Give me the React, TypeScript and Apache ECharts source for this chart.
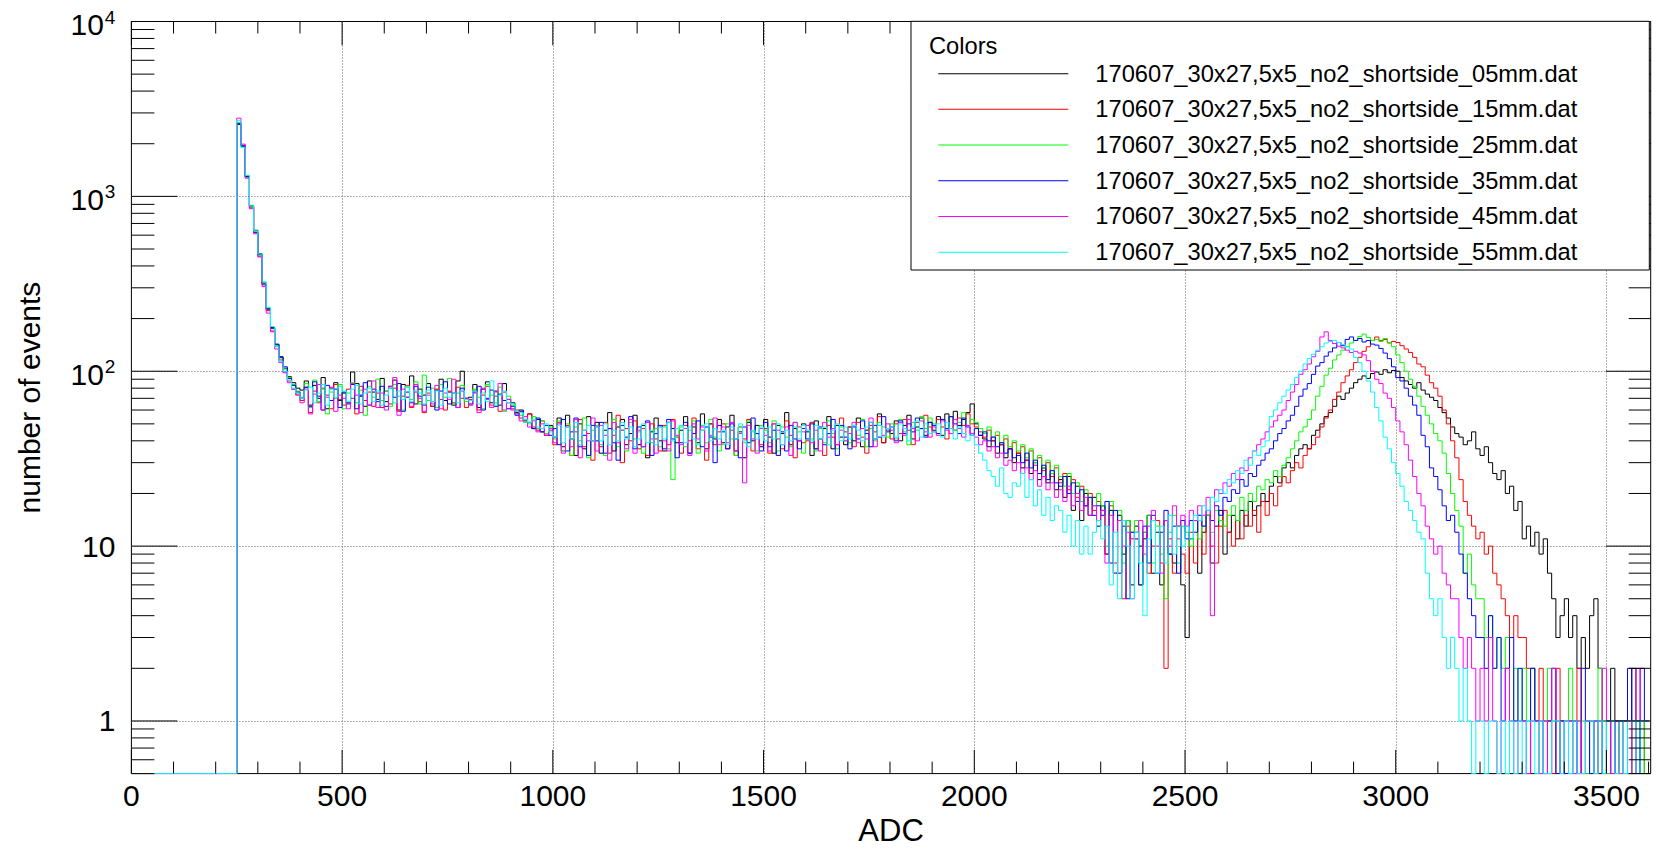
import React, { useEffect, useRef } from "react";
import * as echarts from "echarts";

// ---- histogram binning (ADC) ----
const BIN_WIDTH = 10; // bins start at 0: bin i covers [i*10, i*10+10)
const X_MIN = 0;
const X_MAX = 3605;
const X_MAJOR = 500;
const X_MINOR = 100;
const Y_MIN = 0.5;
const Y_MAX = 10000;

const seriesNames = [
  "170607_30x27,5x5_no2_shortside_05mm.dat",
  "170607_30x27,5x5_no2_shortside_15mm.dat",
  "170607_30x27,5x5_no2_shortside_25mm.dat",
  "170607_30x27,5x5_no2_shortside_35mm.dat",
  "170607_30x27,5x5_no2_shortside_45mm.dat",
  "170607_30x27,5x5_no2_shortside_55mm.dat",
];
const seriesColors = ["#000000", "#ff0000", "#00ff00", "#0000ff", "#ff00ff", "#00ffff"];

// number of events per bin, one row = 100 ADC
const counts05 = [
  0,0,0,0,0,0,0,0,0,0,
  0,0,0,0,0,0,0,0,0,0,
  0,0,0,0,0,2580,1930,1290,880,640,
  470,320,228,178,142,121,104,93,86,80,
  78,88,64,83,70,92,61,80,86,68,
  75,66,99,85,72,63,88,76,69,91,
  67,82,89,60,84,71,94,65,79,73,
  85,63,78,90,68,76,64,88,100,70,
  71,84,62,79,87,66,77,64,85,69,
  66,58,60,52,57,47,53,45,43,49,
  42,54,37,56,41,33,50,36,55,40,
  51,34,46,58,35,48,53,38,44,56,
  38,49,32,45,54,40,35,51,47,39,
  46,55,34,48,39,57,36,50,41,53,
  39,48,56,35,45,32,51,40,49,37,
  53,42,34,49,44,58,38,47,40,50,
  45,33,52,41,47,55,36,49,42,38,
  48,40,54,37,46,51,41,57,39,47,
  44,52,40,49,56,41,48,54,43,51,
  46,55,43,57,47,59,49,53,58,65,
  50,43,41,37,40,34,38,32,36,30,
  34,28,31,26,30,24,28,23,26,21,
  24,19,25,16,22,14,20,15,19,13,
  17,9,16,7,15,9,14,6,13,10,
  11,15,7,12,6,14,9,8,13,6,
  3,11,14,7,12,15,8,13,16,9,
  12,15,11,16,13,18,15,17,20,18,
  22,25,23,28,30,28,33,36,38,36,
  43,46,50,55,58,63,72,69,75,80,
  86,90,94,91,97,99,96,102,98,101,
  100,92,88,84,80,86,78,74,71,68,
  62,58,54,48,44,42,38,40,45,36,
  33,37,30,26,24,27,20,22,16,18,
  11,13,10,12,9,11,7,5,3,4,
  5,3,4,2,3,2,4,5,2,1,
  1,2,0,1,1,0,2,1,0,1,
];

const counts15 = [
  0,0,0,0,0,0,0,0,0,0,
  0,0,0,0,0,0,0,0,0,0,
  0,0,0,0,0,2620,1960,1310,860,625,
  455,318,222,170,139,116,99,88,79,73,
  68,81,58,77,66,80,73,61,84,69,
  64,79,70,57,82,68,76,63,75,62,
  77,65,80,59,72,83,62,76,67,58,
  75,63,79,69,60,77,66,81,70,62,
  69,78,60,73,82,64,72,59,76,66,
  61,60,54,53,57,48,46,52,43,46,
  38,51,35,49,33,45,53,37,44,31,
  48,37,51,34,43,56,30,47,40,52,
  36,47,33,50,41,35,49,38,53,42,
  34,49,40,54,36,46,31,50,38,45,
  50,36,46,33,48,41,53,35,44,38,
  47,34,50,41,36,52,43,32,48,39,
  40,51,36,47,33,49,42,38,54,45,
  48,37,51,42,34,49,45,55,39,46,
  41,50,44,53,46,38,51,47,56,48,
  45,53,48,41,55,46,54,49,57,50,
  48,45,42,46,40,43,38,41,36,39,
  34,37,31,35,29,32,27,30,25,28,
  23,26,21,24,19,22,17,20,16,18,
  16,9,17,8,14,5,13,11,12,6,
  12,7,10,14,8,2,11,7,13,9,
  7,12,8,14,9,15,10,8,13,16,
  12,10,14,11,15,13,16,12,18,15,
  20,17,22,25,23,27,30,28,33,36,
  38,42,48,54,60,69,76,86,94,102,
  112,120,130,138,150,157,150,152,145,148,
  146,140,134,128,120,110,106,95,86,80,
  72,60,50,40,32,24,18,15,13,11,
  12,9,10,7,6,5,4,3,4,3,
  3,2,2,1,2,1,1,0,2,1,
  1,0,1,2,0,1,1,0,1,0,
  1,0,0,1,0,1,0,0,1,0,
];

const counts25 = [
  0,0,0,0,0,0,0,0,0,0,
  0,0,0,0,0,0,0,0,0,0,
  0,0,0,0,0,2640,1920,1280,875,630,
  462,322,230,175,141,119,103,92,84,77,
  71,85,62,89,67,79,57,76,70,84,
  61,75,86,66,78,56,82,71,90,68,
  77,63,84,72,60,81,69,87,65,95,
  68,80,62,84,71,91,65,75,83,67,
  64,79,71,61,84,73,66,81,59,72,
  64,57,56,51,50,55,47,52,44,48,
  41,52,35,50,33,48,40,54,32,46,
  49,38,33,47,53,37,46,35,51,41,
  45,34,51,39,47,37,48,36,24,42,
  48,37,46,52,34,49,39,53,42,35,
  38,50,41,33,48,39,52,45,35,49,
  46,39,52,35,48,42,37,51,45,34,
  49,41,35,47,39,52,44,36,48,40,
  39,49,43,53,37,47,40,51,48,42,
  50,41,53,45,38,51,46,55,47,54,
  50,44,53,47,55,46,51,58,49,53,
  51,47,44,48,42,45,39,43,37,40,
  35,38,32,36,30,33,28,31,26,29,
  25,22,26,20,23,18,21,19,17,20,
  17,10,18,7,16,8,14,12,14,6,
  12,15,8,13,9,5,12,15,8,13,
  12,10,14,11,13,15,12,16,14,13,
  15,17,14,19,16,20,18,22,21,24,
  23,27,25,29,32,36,40,45,48,53,
  60,72,82,95,104,116,124,132,138,145,
  150,158,163,156,150,152,148,154,146,138,
  124,112,100,90,82,72,63,56,50,44,
  40,34,26,20,16,13,7,9,6,5,
  5,3,4,2,3,2,3,1,2,1,
  2,1,2,1,0,1,2,1,1,0,
  1,2,0,1,1,0,1,0,2,1,
  0,1,1,0,1,0,1,1,0,1,
];

const counts35 = [
  0,0,0,0,0,0,0,0,0,0,
  0,0,0,0,0,0,0,0,0,0,
  0,0,0,0,0,2600,1945,1300,885,620,
  465,312,226,176,143,120,106,91,83,76,
  70,81,63,87,72,60,83,68,79,62,
  76,65,84,61,73,86,64,79,67,82,
  63,80,71,85,59,76,66,82,72,64,
  81,67,60,77,87,65,75,62,80,70,
  65,76,82,60,70,78,63,74,68,61,
  63,56,59,53,51,47,54,45,49,43,
  47,38,53,35,45,54,37,43,33,49,
  40,51,34,47,39,31,49,42,55,36,
  48,37,52,33,44,49,36,53,41,32,
  39,51,34,44,52,37,48,42,30,49,
  45,36,50,41,32,48,39,54,44,35,
  51,37,46,33,45,35,49,41,36,47,
  41,50,36,48,38,44,53,33,49,42,
  36,48,41,52,44,37,49,42,55,45,
  48,40,52,44,50,45,54,47,42,51,
  49,44,53,47,55,50,44,54,48,43,
  47,43,45,40,42,37,39,34,36,32,
  33,30,34,28,31,26,29,24,27,23,
  22,25,20,23,18,21,17,19,15,17,
  15,18,8,16,7,13,5,12,11,6,
  13,8,15,7,12,16,9,13,7,14,
  11,14,12,15,13,16,14,17,15,19,
  18,21,20,24,22,26,25,29,31,34,
  36,40,44,47,52,56,63,72,79,85,
  96,107,112,122,129,136,146,140,152,157,
  150,154,147,150,143,141,135,127,118,106,
  92,88,80,72,64,56,43,37,28,25,
  21,17,14,15,12,9,7,5,4,3,
  3,2,4,2,3,1,2,3,1,2,
  1,0,2,1,1,0,1,2,0,1,
  0,1,1,0,2,1,0,1,1,0,
  1,0,1,1,0,2,1,0,2,1,
];

const counts45 = [
  0,0,0,0,0,0,0,0,0,0,
  0,0,0,0,0,0,0,0,0,0,
  0,0,0,0,0,2800,1990,1270,850,610,
  450,305,215,168,134,112,98,86,79,74,
  66,79,57,74,84,60,71,81,59,73,
  70,61,85,73,58,79,64,88,62,75,
  60,82,92,56,79,71,63,84,70,59,
  73,65,83,61,75,69,90,62,77,70,
  64,75,58,80,69,62,76,85,60,69,
  60,57,52,55,48,52,45,50,43,47,
  39,50,34,48,37,53,32,46,40,54,
  35,49,43,31,51,39,46,36,53,34,
  46,37,51,41,34,48,40,35,52,43,
  38,47,33,50,41,48,35,43,54,38,
  48,39,51,35,44,23,49,41,34,47,
  43,35,50,46,38,48,33,51,40,45,
  49,39,46,35,51,42,47,38,46,40,
  44,51,39,47,41,54,37,49,43,50,
  46,39,51,43,53,47,40,52,45,42,
  48,43,52,46,44,53,47,42,49,44,
  42,38,40,35,37,32,34,29,31,27,
  30,26,28,24,27,22,25,21,23,19,
  21,18,22,17,20,16,19,15,17,14,
  16,8,15,7,14,10,12,5,11,14,
  9,13,16,10,7,14,10,17,11,15,
  13,16,14,17,15,19,4,21,20,23,
  22,26,24,28,27,32,35,38,41,45,
  48,52,56,60,68,76,84,96,102,110,
  121,130,157,168,150,144,139,136,132,128,
  130,127,124,115,100,90,85,75,70,62,
  52,45,38,31,25,20,17,13,11,9,
  10,7,6,5,5,3,2,3,2,1,
  2,1,3,1,0,1,2,1,0,1,
  1,0,1,1,0,1,0,2,1,0,
  1,1,0,1,0,1,1,0,1,2,
  1,0,1,0,1,1,0,2,1,1,
];

const counts55 = [
  0,0,0,0,0,0,0,0,0,0,
  0,0,0,0,0,0,0,0,0,0,
  0,0,0,0,0,2720,1900,1320,890,635,
  468,325,232,180,138,114,100,89,80,75,
  70,78,81,66,75,84,64,79,71,82,
  77,67,79,83,65,75,80,67,77,64,
  73,80,66,77,69,82,67,78,75,65,
  78,67,77,64,80,71,75,66,78,69,
  68,77,65,75,67,88,64,73,77,66,
  65,59,58,53,51,53,48,47,50,45,
  42,49,39,48,41,51,38,46,49,40,
  48,40,50,38,46,40,51,41,48,37,
  41,50,39,46,38,48,41,51,40,47,
  49,39,48,41,38,46,50,40,47,41,
  46,38,48,41,50,40,37,46,41,48,
  40,48,41,50,38,46,40,48,41,49,
  46,40,49,41,48,38,46,50,40,48,
  41,49,46,40,48,51,41,49,42,47,
  48,42,50,47,40,48,52,42,50,44,
  45,50,42,51,47,41,48,44,40,43,
  38,34,31,27,25,22,28,20,19,23,
  22,26,19,24,17,21,15,19,14,17,
  16,12,15,10,14,9,13,9,12,14,
  11,13,6,12,5,14,10,5,12,8,
  4,11,14,7,13,8,15,9,13,10,
  13,11,15,14,17,16,19,18,21,20,
  24,23,27,26,31,29,35,33,37,40,
  55,60,66,72,78,84,92,100,110,118,
  125,132,138,145,148,150,146,142,138,134,
  120,112,100,88,76,62,52,42,36,30,
  26,22,18,16,14,12,11,7,5,4,
  5,3,2,3,2,1,2,1,0,1,
  1,0,1,1,0,1,0,1,0,1,
  0,1,1,0,1,0,0,1,1,0,
  1,0,1,0,0,1,1,0,1,0,
  1,1,0,1,0,1,1,0,1,1,
];

const allCounts = [counts05, counts15, counts25, counts35, counts45, counts55];

const xAxisTitle = "ADC";
const yAxisTitle = "number of events";
const legendHeader = "Colors";

const FONT = '"Liberation Sans", Arial, Helvetica, sans-serif';

// empty bins are drawn on the bottom edge of the frame (log scale)
function toStepData(counts: number[]) {
  const pts: number[][] = counts.map((c, i) => [i * BIN_WIDTH, c > 0 ? c : Y_MIN]);
  const last = counts[counts.length - 1];
  pts.push([counts.length * BIN_WIDTH, last > 0 ? last : Y_MIN]);
  return pts;
}

export default function App() {
  const ref = useRef<HTMLDivElement>(null);

  useEffect(() => {
    if (!ref.current) return;
    const chart = echarts.init(ref.current, null, { renderer: "svg" });

    const lineSeries = allCounts.map((counts, i) => ({
      type: "line",
      name: seriesNames[i],
      data: toStepData(counts),
      step: "end",
      symbol: "none",
      showSymbol: false,
      lineStyle: { width: 1, color: seriesColors[i] },
      itemStyle: { color: seriesColors[i] },
      z: 2,
      silent: true,
    }));

    const gridSeries = {
      type: "custom",
      coordinateSystem: "cartesian2d",
      silent: true,
      clip: false,
      z: 1,
      data: [[X_MIN, 1]],
      renderItem: (params: any, api: any) => {
        const cs = params.coordSys;
        const children: any[] = [];
        const st = { stroke: "#666", lineWidth: 1, lineDash: [1, 2] };
        for (let v = X_MAJOR; v < X_MAX; v += X_MAJOR) {
          const px = Math.round(api.coord([v, 1])[0]) + 0.5;
          children.push({ type: "line", shape: { x1: px, y1: cs.y, x2: px, y2: cs.y + cs.height }, style: st });
        }
        for (let e = 0; e < 4; e++) {
          const py = Math.round(api.coord([X_MIN, Math.pow(10, e)])[1]) + 0.5;
          children.push({ type: "line", shape: { x1: cs.x, y1: py, x2: cs.x + cs.width, y2: py }, style: st });
        }
        return { type: "group", children };
      },
    };

    const tickSeries = {
      type: "custom",
      coordinateSystem: "cartesian2d",
      silent: true,
      clip: false,
      z: 3,
      data: [[X_MIN, 1]],
      renderItem: (params: any, api: any) => {
        const cs = params.coordSys;
        const left = cs.x, right = cs.x + cs.width, top = cs.y, bottom = cs.y + cs.height;
        const children: any[] = [];
        const st = { stroke: "#000", lineWidth: 1 };
        for (let v = X_MIN; v <= X_MAX; v += X_MINOR) {
          const px = api.coord([v, 1])[0];
          const len = v % X_MAJOR === 0 ? 23.7 : 12;
          children.push({ type: "line", shape: { x1: px, y1: bottom, x2: px, y2: bottom - len }, style: st });
          children.push({ type: "line", shape: { x1: px, y1: top, x2: px, y2: top + len }, style: st });
        }
        for (let e = -1; e <= 4; e++) {
          for (let k = 1; k <= 9; k++) {
            const v = k * Math.pow(10, e);
            if (v < Y_MIN || v > Y_MAX) continue;
            const py = api.coord([X_MIN, v])[1];
            const major = k === 1;
            children.push({ type: "line", shape: { x1: left, y1: py, x2: left + (major ? 46 : 23), y2: py }, style: st });
            children.push({ type: "line", shape: { x1: right, y1: py, x2: right - (major ? 44.7 : 22), y2: py }, style: st });
          }
        }
        return { type: "group", children };
      },
    };

    chart.setOption({
      animation: false,
      backgroundColor: "#ffffff",
      grid: {
        left: 131.4,
        top: 21.5,
        width: 1519.3,
        height: 759.5,
        show: true,
        borderColor: "#000",
        borderWidth: 1,
        backgroundColor: "transparent",
      },
      xAxis: {
        type: "value",
        min: X_MIN,
        max: X_MAX,
        interval: X_MAJOR,
        axisLine: { show: false },
        axisTick: { show: false },
        splitLine: { show: false },
        axisLabel: {
          fontSize: 30,
          color: "#000",
          fontFamily: FONT,
          margin: 6.5,
          showMaxLabel: false,
          formatter: (v: number) => String(v),
        },
        name: xAxisTitle,
        nameLocation: "middle",
        nameGap: 37,
        nameTextStyle: { fontSize: 31, color: "#000", fontFamily: FONT },
      },
      yAxis: {
        type: "log",
        logBase: 10,
        min: Y_MIN,
        max: Y_MAX,
        axisLine: { show: false },
        axisTick: { show: false },
        splitLine: { show: false },
        axisLabel: {
          margin: 16,
          showMinLabel: false,
          color: "#000",
          fontFamily: FONT,
          fontSize: 30,
          formatter: (v: number) => {
            const lg = Math.log10(v);
            const e = Math.round(lg);
            if (Math.abs(lg - e) > 1e-6 || e < 0) return "";
            if (e === 0) return "{n|1}";
            if (e === 1) return "{n|10}";
            return "{b|10}{s|" + e + "}";
          },
          rich: {
            n: { fontSize: 30, color: "#000", fontFamily: FONT },
            b: { fontSize: 30, color: "#000", fontFamily: FONT, padding: [6, 0, 0, 0] },
            s: { fontSize: 19, color: "#000", fontFamily: FONT, verticalAlign: "top", padding: [4, 0, 0, 1] },
          },
        },
        name: yAxisTitle,
        nameLocation: "middle",
        nameGap: 87,
        nameTextStyle: { fontSize: 30, color: "#000", fontFamily: FONT },
      },
      legend: {
        data: seriesNames,
        orient: "vertical",
        left: 911,
        top: 21.3,
        padding: [34.5, 72, 0, 27.3],
        icon: "rect",
        itemWidth: 130,
        itemHeight: 1,
        itemGap: 0,
        backgroundColor: "#ffffff",
        borderColor: "#000",
        borderWidth: 1,
        selectedMode: false,
        textStyle: {
          fontSize: 23.7,
          fontFamily: FONT,
          color: "#000",
          lineHeight: 19.7,
          padding: [16, 0, 0, 22],
        },
      },
      graphic: [
        {
          type: "text",
          x: 929,
          y: 46,
          z: 100,
          style: { text: legendHeader, fontSize: 23.7, fontFamily: FONT, fill: "#000", verticalAlign: "middle" },
        },
      ],
      series: [gridSeries, ...lineSeries, tickSeries],
    });

    return () => chart.dispose();
  }, []);

  return <div ref={ref} style={{ position: "fixed", left: 0, top: 0, width: 1660, height: 851 }} />;
}
